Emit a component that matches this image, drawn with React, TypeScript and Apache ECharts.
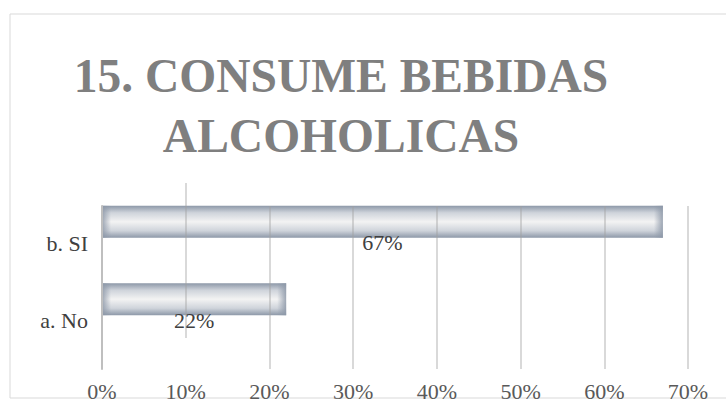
import React, { useEffect, useRef } from 'react';
import * as echarts from 'echarts';

const categories = ['a. No', 'b. SI'];
const values = [22, 67];
const axisMax = 70;
const axisInterval = 10;
const titleLines = ['15. CONSUME BEBIDAS', 'ALCOHOLICAS'];

const SERIF = 'Liberation Serif';

export default function App() {
  const ref = useRef<HTMLDivElement>(null);

  useEffect(() => {
    const chart = echarts.init(ref.current!, null, { renderer: 'svg' });

    const edge = '#8d98a8';
    const barGradient = new echarts.graphic.LinearGradient(0, 0, 0, 1, [
      { offset: 0, color: edge },
      { offset: 0.22, color: '#cfd4db' },
      { offset: 0.5, color: '#f3f3f3' },
      { offset: 0.78, color: '#cfd4db' },
      { offset: 1, color: edge },
    ]);
    const plotWidth = 586;
    const fade = 9;
    const endData = values.map((v) => {
      const f = Math.min(0.45, fade / ((v / axisMax) * plotWidth));
      return {
        value: v,
        itemStyle: {
          color: new echarts.graphic.LinearGradient(0, 0, 1, 0, [
            { offset: 0, color: 'rgba(141,152,168,0.85)' },
            { offset: f, color: 'rgba(141,152,168,0)' },
            { offset: 1 - f, color: 'rgba(141,152,168,0)' },
            { offset: 1, color: 'rgba(141,152,168,0.85)' },
          ]),
        },
      };
    });

    const nLines = axisMax / axisInterval + 1;
    const lineCol = 'rgba(160,160,160,0.4)';
    const clear = 'rgba(0,0,0,0)';
    const gridColorA = Array.from({ length: nLines }, (_, i) => (i === 1 ? clear : lineCol));
    const gridColorB = Array.from({ length: nLines }, (_, i) => (i === 1 ? lineCol : clear));

    const titleStyle = (text: string) => ({
      text,
      fill: '#7f7f7f',
      fontSize: 47.5,
      fontWeight: 'bold',
      fontFamily: SERIF,
      textAlign: 'center',
      align: 'center',
      textVerticalAlign: 'middle',
      verticalAlign: 'middle',
    });

    chart.setOption({
      animation: false,
      backgroundColor: '#ffffff',
      textStyle: { fontFamily: SERIF },
      graphic: [
        {
          type: 'rect',
          z: -10,
          shape: { x: 10, y: 14, width: 740, height: 384 },
          style: { fill: 'none', stroke: '#d9d9d9', lineWidth: 1 },
        },
        { type: 'text', x: 341, y: 76, style: titleStyle(titleLines[0]) },
        { type: 'text', x: 341, y: 136, style: titleStyle(titleLines[1]) },
      ],
      grid: [
        { left: 102, right: 38, top: 206, bottom: 31, outerBoundsMode: 'none', containLabel: false },
        { left: 102, right: 38, top: 183, bottom: 62, outerBoundsMode: 'none', containLabel: false },
        { left: 102, right: 38, top: 204.5, bottom: 41.5, outerBoundsMode: 'none', containLabel: false },
      ],
      xAxis: [
        {
          type: 'value',
          gridIndex: 0,
          min: 0,
          max: axisMax,
          interval: axisInterval,
          z: 3,
          axisLine: { show: false },
          axisTick: { show: false },
          axisLabel: {
            formatter: '{value}%',
            fontSize: 22,
            color: '#595959',
            fontFamily: SERIF,
            margin: 11,
          },
          splitLine: { show: true, lineStyle: { color: gridColorA, width: 2 } },
        },
        {
          type: 'value',
          gridIndex: 1,
          min: 0,
          max: axisMax,
          interval: axisInterval,
          z: 3,
          axisLine: { show: false },
          axisTick: { show: false },
          axisLabel: { show: false },
          splitLine: { show: true, lineStyle: { color: gridColorB, width: 2 } },
        },
        {
          type: 'value',
          gridIndex: 2,
          min: 0,
          max: axisMax,
          show: false,
        },
      ],
      yAxis: [
        {
          type: 'category',
          gridIndex: 0,
          data: categories,
          z: 3,
          axisTick: { show: false },
          axisLabel: { show: false },
          axisLine: { show: true, lineStyle: { color: '#bfbfbf', width: 2 } },
        },
        {
          type: 'category',
          gridIndex: 1,
          data: categories,
          axisTick: { show: false },
          axisLine: { show: false },
          axisLabel: { show: false },
        },
        {
          type: 'category',
          gridIndex: 2,
          data: categories,
          axisTick: { show: false },
          axisLine: { show: false },
          axisLabel: {
            fontSize: 22,
            color: '#404040',
            fontFamily: SERIF,
            margin: 14,
          },
        },
      ],
      series: [
        {
          type: 'bar',
          xAxisIndex: 1,
          yAxisIndex: 1,
          barWidth: 32,
          barGap: '-100%',
          data: values,
          itemStyle: { color: barGradient },
        },
        {
          type: 'bar',
          xAxisIndex: 1,
          yAxisIndex: 1,
          barWidth: 32,
          barGap: '-100%',
          silent: true,
          data: endData,
          label: {
            show: true,
            position: 'inside',
            offset: [0, 21],
            formatter: '{c}%',
            fontSize: 22,
            color: '#404040',
            fontFamily: SERIF,
          },
        },
      ],
    });

    return () => chart.dispose();
  }, []);

  return (
    <div
      ref={ref}
      style={{ position: 'fixed', left: 0, top: 0, width: 726, height: 400, background: '#fff' }}
    />
  );
}
